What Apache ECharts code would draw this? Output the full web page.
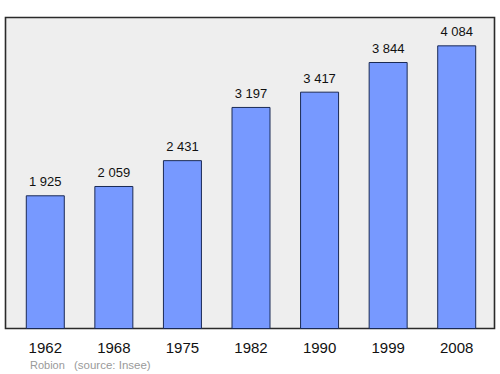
<!DOCTYPE html>
<html><head><meta charset="utf-8">
<script src="https://cdn.jsdelivr.net/npm/echarts@6/dist/echarts.min.js"></script>
<style>html,body{margin:0;padding:0;background:#fff}#c{width:500px;height:374px}</style>
</head><body><div id="c"></div>
<script>
const categories = ['1962','1968','1975','1982','1990','1999','2008'];
const population = [1925, 2059, 2431, 3197, 3417, 3844, 4084];
const place = 'Robion';
const source = '(source: Insee)';

function fmt(v){ return String(v).replace(/\B(?=(\d{3})+(?!\d))/g, ' '); }

const chart = echarts.init(document.getElementById('c'), null, {renderer:'svg'});
chart.setOption({
  animation:false,
  graphic:[
    {type:'rect', shape:{x:5.5,y:17.5,width:489,height:311}, style:{fill:'#eeeeee', stroke:'#2a2a2a', lineWidth:1.6}, z:-10},
    {type:'text', left:30, top:359, style:{text:place, fill:'#9a9a9a', font:'11px "Liberation Sans", Arial, sans-serif'}},
    {type:'text', left:74, top:358.5, style:{text:source, fill:'#9a9a9a', font:'11.5px "Liberation Sans", Arial, sans-serif'}}
  ],
  grid:{left:11, right:9, top:17, bottom:45},
  xAxis:{type:'category', data:categories,
    axisLine:{show:false}, axisTick:{show:false},
    axisLabel:{color:'#111', fontSize:15, fontFamily:'Liberation Sans, Arial, sans-serif', margin:11}},
  yAxis:{type:'value', min:0, max:4492, show:false, splitLine:{show:false}},
  series:[{type:'bar', data:population, barWidth:39,
    itemStyle:{color:'#7799ff', borderColor:'#1a2a55', borderWidth:1},
    label:{show:true, position:'top', distance:7, color:'#111', fontSize:13,
      fontFamily:'Liberation Sans, Arial, sans-serif', formatter:p=>fmt(p.value)}}]
});
</script></body></html>
